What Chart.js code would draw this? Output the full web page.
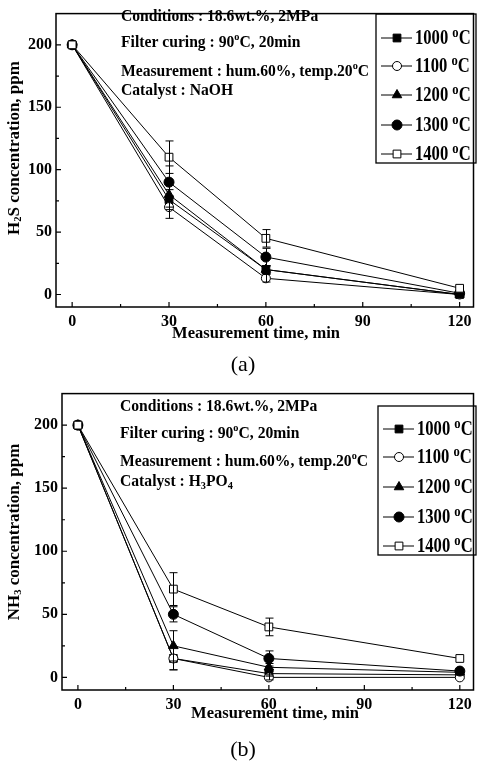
<!DOCTYPE html>
<html><head><meta charset="utf-8">
<script src="https://cdn.jsdelivr.net/npm/chart.js@4/dist/chart.umd.min.js"></script>
<style>
html,body{margin:0;padding:0;background:#fff;}
#wrap{width:480px;height:763px;position:relative;overflow:hidden;}
.box{position:absolute;left:0;width:480px;}
</style></head><body>
<div id="wrap">
<div class="box" style="top:0;height:380px"><canvas id="c1"></canvas></div>
<div class="box" style="top:380px;height:383px"><canvas id="c2"></canvas></div>
</div>
<script>
// ---------- DATA ----------
const times = [0, 30, 60, 120];
const seriesNames = ['1000', '1100', '1200', '1300', '1400'];
const xTickValues = [0, 30, 60, 90, 120];
const xMinorValues = [15, 45, 75, 105];
const yTickValues = [0, 50, 100, 150, 200];
const yMinorValues = [25, 75, 125, 175];

// (a) H2S, catalyst NaOH
const h2s1000 = [200, 76, 20, 0];
const h2s1100 = [200, 70, 13, 0];
const h2s1200 = [200, 80, 20, 0];
const h2s1300 = [200, 90, 30, 1];
const h2s1400 = [200, 110, 45, 5];
const h2sErr1000 = [0, 8, 3, 0];
const h2sErr1100 = [0, 9, 3, 0];
const h2sErr1200 = [0, 10, 3, 0];
const h2sErr1300 = [0, 13, 7, 0];
const h2sErr1400 = [0, 13, 7, 0];

// (b) NH3, catalyst H3PO4
const nh31000 = [200, 15, 3, 2];
const nh31100 = [200, 15, 0, 0];
const nh31200 = [200, 25, 8, 4];
const nh31300 = [200, 50, 15, 5];
const nh31400 = [200, 70, 40, 15];
const nh3Err1000 = [0, 9, 2, 0];
const nh3Err1100 = [0, 9, 2, 0];
const nh3Err1200 = [0, 12, 3, 0];
const nh3Err1300 = [0, 6, 6, 0];
const nh3Err1400 = [0, 13, 7, 0];

// ---------- STYLE ----------
const SERIF = '"Liberation Serif", "Times New Roman", serif';
const markerStyles = [
  {style: 'rect', fill: '#000', r: 5.5},
  {style: 'circle', fill: '#fff', r: 4.5},
  {style: 'triangle', fill: '#000', r: 5.5},
  {style: 'circle', fill: '#000', r: 5},
  {style: 'rect', fill: '#fff', r: 5.5}
];

// parts: [text, mode], mode '' | 'sup' | 'sub'
function drawRich(ctx, x, y, parts, size, weight, align, hs, rot, supScale) {
  hs = hs || 1; supScale = supScale || 0.68;
  ctx.save();
  ctx.textBaseline = 'middle';
  ctx.textAlign = 'left';
  ctx.fillStyle = '#000';
  const widths = parts.map(([t, m]) => {
    const s = m ? size * supScale : size;
    ctx.font = weight + ' ' + s + 'px ' + SERIF;
    return ctx.measureText(t).width;
  });
  const total = widths.reduce((a, b) => a + b, 0);
  ctx.translate(x, y);
  if (rot) ctx.rotate(rot);
  ctx.scale(hs, 1);
  let cx = align === 'center' ? -total / 2 : 0;
  parts.forEach(([t, m], i) => {
    const s = m ? size * supScale : size;
    ctx.font = weight + ' ' + s + 'px ' + SERIF;
    let dy = 0;
    if (m === 'sup') dy = -size * 0.32;
    if (m === 'sub') dy = size * 0.22;
    ctx.fillText(t, cx, dy);
    cx += widths[i];
  });
  ctx.restore();
}

function makeDatasets(values, errs) {
  return values.map((v, i) => ({
    label: seriesNames[i],
    data: times.map((t, j) => ({x: t, y: v[j]})),
    errors: errs[i],
    borderColor: '#000',
    borderWidth: 1,
    backgroundColor: markerStyles[i].fill,
    pointBackgroundColor: markerStyles[i].fill,
    pointBorderColor: '#000',
    pointBorderWidth: 1,
    pointStyle: markerStyles[i].style,
    pointRadius: markerStyles[i].r,
    tension: 0,
    fill: false,
    order: 4 - i
  }));
}

const framePlugin = {
  id: 'frame',
  afterDatasetsDraw(chart) {
    const ctx = chart.ctx;
    const xs = chart.scales.x, ys = chart.scales.y;
    ctx.save();
    ctx.strokeStyle = '#000';
    ctx.lineWidth = 1;
    chart.data.datasets.forEach(ds => {
      ds.data.forEach((p, j) => {
        const e = ds.errors[j];
        if (!e) return;
        const px = Math.round(xs.getPixelForValue(p.x)) + 0.5;
        const y1 = ys.getPixelForValue(p.y + e);
        const y2 = ys.getPixelForValue(p.y - e);
        ctx.beginPath();
        ctx.moveTo(px, y1); ctx.lineTo(px, y2);
        ctx.moveTo(px - 4, y1); ctx.lineTo(px + 4, y1);
        ctx.moveTo(px - 4, y2); ctx.lineTo(px + 4, y2);
        ctx.stroke();
      });
    });
    ctx.restore();
  },
  afterDraw(chart, args, opts) {
    const ctx = chart.ctx;
    const a = chart.chartArea;
    const xs = chart.scales.x, ys = chart.scales.y;
    ctx.save();
    ctx.strokeStyle = '#000';
    ctx.lineWidth = 1.5;
    ctx.strokeRect(a.left, a.top, a.right - a.left, a.bottom - a.top);
    ctx.lineWidth = 1.2;
    ctx.beginPath();
    xTickValues.forEach(v => { const p = xs.getPixelForValue(v); ctx.moveTo(p, a.bottom); ctx.lineTo(p, a.bottom - 5); });
    xMinorValues.forEach(v => { const p = xs.getPixelForValue(v); ctx.moveTo(p, a.bottom); ctx.lineTo(p, a.bottom - 3); });
    yTickValues.forEach(v => { const p = ys.getPixelForValue(v); ctx.moveTo(a.left, p); ctx.lineTo(a.left + 5, p); });
    yMinorValues.forEach(v => { const p = ys.getPixelForValue(v); ctx.moveTo(a.left, p); ctx.lineTo(a.left + 3, p); });
    ctx.stroke();
    ctx.restore();

    // axis titles
    drawRich(ctx, opts.xTitle.x, opts.xTitle.y, [['Measurement time, min', '']], 16.5, 'bold', 'center');
    drawRich(ctx, opts.yTitle.x, opts.yTitle.y, opts.yTitle.parts, 17, 'bold', 'center', 1, -Math.PI / 2, 0.62);

    // annotations
    opts.notes.forEach(n => drawRich(ctx, n.x, n.y, n.parts, 17, 'bold', 'left', 0.92, 0, 0.66));

    // legend
    const L = opts.legend;
    ctx.save();
    ctx.strokeStyle = '#000';
    ctx.lineWidth = 1.3;
    ctx.strokeRect(L.x, L.y, L.w, L.h);
    ctx.restore();
    chart.data.datasets.forEach((ds, i) => {
      const yy = L.rows[i];
      ctx.save();
      ctx.strokeStyle = '#000';
      ctx.lineWidth = 1;
      ctx.beginPath();
      ctx.moveTo(L.x + 5, yy); ctx.lineTo(L.x + 36, yy);
      ctx.stroke();
      ctx.fillStyle = ds.pointBackgroundColor;
      ctx.strokeStyle = '#000';
      Chart.helpers.drawPoint(ctx, {pointStyle: ds.pointStyle, radius: ds.pointRadius, borderWidth: 1, rotation: 0}, L.x + 21, yy);
      ctx.restore();
      drawRich(ctx, L.x + 39, yy + 1, [[ds.label + ' ', ''], ['o', 'sup'], ['C', '']], 20, 'bold', 'left', 0.83, 0, 0.76);
    });

    // panel label
    drawRich(ctx, opts.tag.x, opts.tag.y, [[opts.tag.text, '']], 22, 'normal', 'center');
  }
};

function makeChart(id, values, errs, yAxisW, topPad, frameOpts) {
  return new Chart(document.getElementById(id), {
    type: 'line',
    data: {datasets: makeDatasets(values, errs)},
    plugins: [framePlugin],
    options: {
      animation: false,
      responsive: true,
      maintainAspectRatio: false,
      devicePixelRatio: 1,
      layout: {padding: {left: 0, right: 1, top: topPad, bottom: 35}},
      plugins: {
        legend: {display: false},
        tooltip: {enabled: false},
        frame: frameOpts
      },
      scales: {
        x: {
          type: 'linear',
          min: -5, max: 124.3,
          grid: {display: false, drawTicks: false},
          border: {display: false},
          afterBuildTicks: s => { s.ticks = xTickValues.map(v => ({value: v})); },
          afterFit: s => { s.height = 38; },
          ticks: {color: '#000', font: {family: SERIF, size: 16, weight: 'bold'}, padding: 5, maxRotation: 0, autoSkip: false}
        },
        y: {
          type: 'linear',
          min: -10, max: 225,
          grid: {display: false, drawTicks: false},
          border: {display: false},
          afterBuildTicks: s => { s.ticks = yTickValues.map(v => ({value: v})); },
          afterFit: s => { s.width = yAxisW; },
          ticks: {color: '#000', font: {family: SERIF, size: 16, weight: 'bold'}, padding: 4}
        }
      }
    }
  });
}

makeChart('c1',
  [h2s1000, h2s1100, h2s1200, h2s1300, h2s1400],
  [h2sErr1000, h2sErr1100, h2sErr1200, h2sErr1300, h2sErr1400],
  56, 5,
  {
    notes: [
      {x: 121, y: 17, parts: [['Conditions : 18.6wt.%, 2MPa', '']]},
      {x: 121, y: 43, parts: [['Filter curing : 90', ''], ['o', 'sup'], ['C, 20min', '']]},
      {x: 121, y: 72, parts: [['Measurement : hum.60%, temp.20', ''], ['o', 'sup'], ['C', '']]},
      {x: 121, y: 91, parts: [['Catalyst : NaOH', '']]}
    ],
    legend: {x: 376, y: 14, w: 100, h: 149, rows: [38, 66, 95, 125, 154]},
    tag: {x: 243, y: 365, text: '(a)'},
    xTitle: {x: 256, y: 334},
    yTitle: {x: 15, y: 148, parts: [['H', ''], ['2', 'sub'], ['S concentration, ppm', '']]}
  }
);

makeChart('c2',
  [nh31000, nh31100, nh31200, nh31300, nh31400],
  [nh3Err1000, nh3Err1100, nh3Err1200, nh3Err1300, nh3Err1400],
  62, 13,
  {
    notes: [
      {x: 120, y: 27, parts: [['Conditions : 18.6wt.%, 2MPa', '']]},
      {x: 120, y: 54, parts: [['Filter curing : 90', ''], ['o', 'sup'], ['C, 20min', '']]},
      {x: 120, y: 82, parts: [['Measurement : hum.60%, temp.20', ''], ['o', 'sup'], ['C', '']]},
      {x: 120, y: 102, parts: [['Catalyst : H', ''], ['3', 'sub'], ['PO', ''], ['4', 'sub']]}
    ],
    legend: {x: 378, y: 26, w: 98, h: 149, rows: [49, 77, 107, 137, 166]},
    tag: {x: 243, y: 370, text: '(b)'},
    xTitle: {x: 275, y: 334},
    yTitle: {x: 15, y: 152, parts: [['NH', ''], ['3', 'sub'], [' concentration, ppm', '']]}
  }
);
</script>
</body></html>
